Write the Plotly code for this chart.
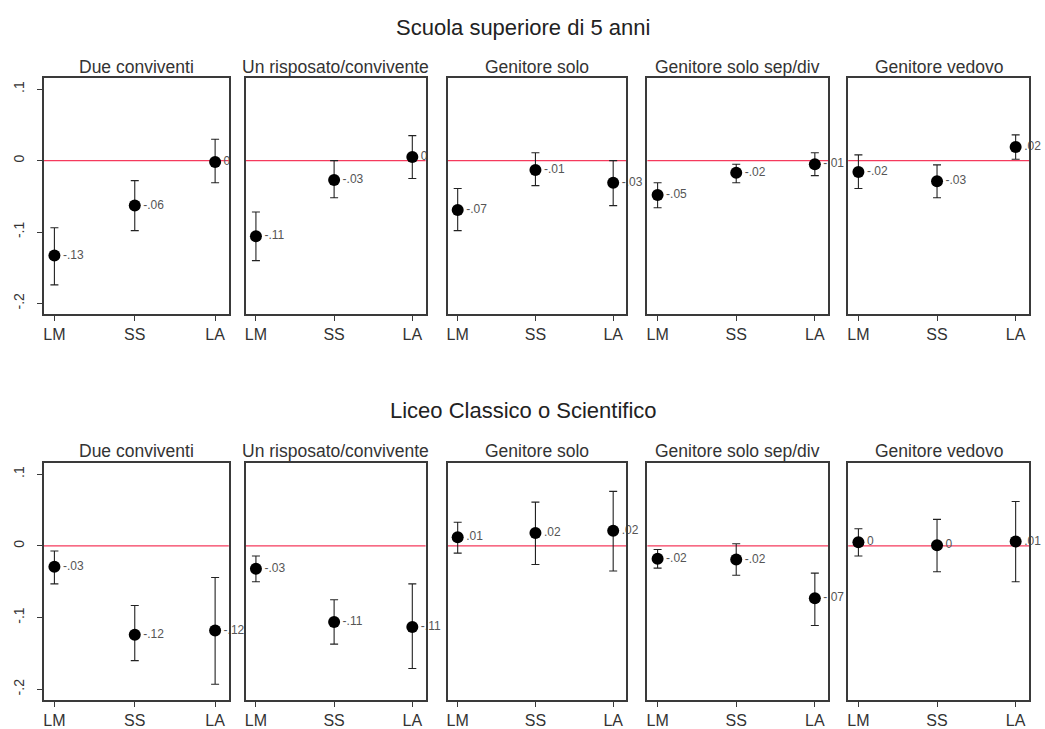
import plotly.graph_objects as go

# ---------------- data ----------------
categories = ["LM", "SS", "LA"]
panel_titles = ["Due conviventi", "Un risposato/convivente", "Genitore solo",
                "Genitore solo sep/div", "Genitore vedovo"]
row_titles = ["Scuola superiore di 5 anni", "Liceo Classico o Scientifico"]
ytick_vals = [-0.2, -0.1, 0.0, 0.1]
ytick_text = ["-.2", "-.1", "0", ".1"]

# Row 1: Scuola superiore di 5 anni
top_est = [[-0.133, -0.063, -0.002], [-0.106, -0.027, 0.005], [-0.069, -0.013, -0.031],
           [-0.048, -0.017, -0.005], [-0.016, -0.029, 0.019]]
top_lo = [[-0.174, -0.098, -0.031], [-0.140, -0.052, -0.025], [-0.098, -0.035, -0.063],
          [-0.066, -0.031, -0.021], [-0.039, -0.052, 0.002]]
top_hi = [[-0.094, -0.028, 0.030], [-0.072, 0.000, 0.035], [-0.039, 0.011, 0.000],
          [-0.031, -0.005, 0.011], [0.008, -0.006, 0.036]]
top_lab = [["-.13", "-.06", "0"], ["-.11", "-.03", "0"], ["-.07", "-.01", "-.03"],
           ["-.05", "-.02", "-.01"], ["-.02", "-.03", ".02"]]

# Row 2: Liceo Classico o Scientifico
bot_est = [[-0.029, -0.124, -0.118], [-0.032, -0.106, -0.113], [0.012, 0.018, 0.021],
           [-0.018, -0.019, -0.073], [0.005, 0.001, 0.006]]
bot_lo = [[-0.053, -0.160, -0.193], [-0.050, -0.137, -0.171], [-0.010, -0.026, -0.035],
          [-0.031, -0.041, -0.111], [-0.014, -0.036, -0.050]]
bot_hi = [[-0.007, -0.083, -0.044], [-0.014, -0.075, -0.053], [0.033, 0.061, 0.076],
          [-0.005, 0.003, -0.038], [0.024, 0.037, 0.062]]
bot_lab = [["-.03", "-.12", "-.12"], ["-.03", "-.11", "-.11"], [".01", ".02", ".02"],
           ["-.02", "-.02", "-.07"], ["0", "0", ".01"]]

rows = [(top_est, top_lo, top_hi, top_lab), (bot_est, bot_lo, bot_hi, bot_lab)]

# ---------------- layout geometry ----------------
W, H = 1045, 729
panel_px = [(43, 228), (245, 425), (447, 626), (647, 828), (848, 1029)]
row_px = [(78, 315), (464, 702)]   # top, bottom in pixels
row_title_px = [28, 412]
sub_title_px = [67, 452]

FONT = "Liberation Sans, Arial, sans-serif"
AXCOL = "#3a3a3a"

fig = go.Figure()
layout = dict(width=W, height=H, margin=dict(l=0, r=0, t=0, b=0),
              paper_bgcolor="white", plot_bgcolor="white", showlegend=False,
              font=dict(family=FONT, color="#333"))
annotations = []
shapes = []

k = 0
for r, (est, lo, hi, lab) in enumerate(rows):
    ytop, ybot = row_px[r]
    ydom = [(H - ybot) / H, (H - ytop) / H]
    for p in range(5):
        k += 1
        xs = "" if k == 1 else str(k)
        x0, x1 = panel_px[p]
        xdom = [x0 / W, x1 / W]
        e = est[p]
        plus = [hi[p][i] - e[i] for i in range(3)]
        minus = [e[i] - lo[p][i] for i in range(3)]
        fig.add_trace(go.Scatter(
            x=[1, 2, 3], y=e, mode="markers+text",
            text=lab[p], textposition="middle right",
            textfont=dict(size=12, color="#555", family=FONT),
            marker=dict(color="black", size=12),
            error_y=dict(type="data", array=plus, arrayminus=minus,
                         color="#222", thickness=1.1, width=4),
            xaxis="x" + xs, yaxis="y" + xs, cliponaxis=False))
        layout["xaxis" + xs] = dict(
            domain=xdom, anchor="y" + xs, range=[0.87, 3.17],
            tickvals=[1, 2, 3], ticktext=categories, ticks="outside",
            ticklen=5, tickcolor=AXCOL, showgrid=False, zeroline=False,
            showline=True, mirror=True, linecolor=AXCOL, linewidth=1.6,
            tickfont=dict(size=16, color="#333", family=FONT), fixedrange=True)
        yax = dict(
            domain=ydom, anchor="x" + xs, range=[-0.215, 0.116],
            showgrid=False, zeroline=False, showline=True, mirror=True,
            linecolor=AXCOL, linewidth=1.6, fixedrange=True)
        if p == 0:
            yax.update(tickvals=ytick_vals, ticktext=ytick_text, ticks="outside",
                       ticklen=5, tickcolor=AXCOL, tickangle=-90,
                       ticklabelstandoff=8,
                       tickfont=dict(size=14, color="#333", family=FONT))
        else:
            yax.update(showticklabels=False, ticks="")
        layout["yaxis" + xs] = yax
        shapes.append(dict(type="line", xref="x" + xs + " domain", yref="y" + xs,
                           x0=0, x1=1, y0=0, y1=0,
                           line=dict(color="#f53a5c", width=1.3), layer="below"))
        annotations.append(dict(text=panel_titles[p], showarrow=False,
                                x=(xdom[0] + xdom[1]) / 2, y=(H - sub_title_px[r]) / H,
                                xref="paper", yref="paper", xanchor="center",
                                yanchor="middle",
                                font=dict(size=17.5, color="#333", family=FONT)))
    annotations.append(dict(text=row_titles[r], showarrow=False,
                            x=523 / W, y=(H - row_title_px[r]) / H,
                            xref="paper", yref="paper", xanchor="center",
                            yanchor="middle",
                            font=dict(size=22, color="#222", family=FONT)))

layout["annotations"] = annotations
layout["shapes"] = shapes
fig.update_layout(**layout)
fig.write_html("out.html", config={"displayModeBar": False},
               post_script="document.body.style.margin='0';document.body.style.overflow='hidden';")
